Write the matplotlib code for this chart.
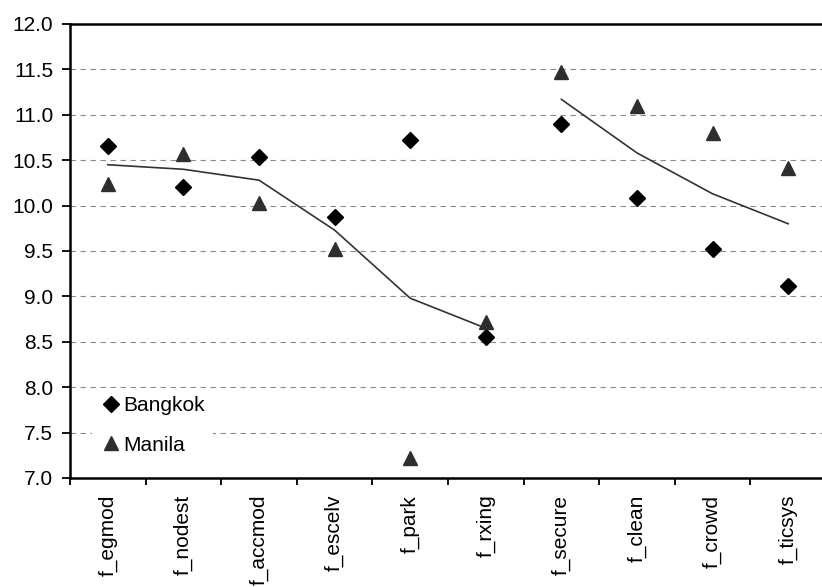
import numpy as np
import matplotlib
matplotlib.use("Agg")
import matplotlib.pyplot as plt

categories = ['f_egmod', 'f_nodest', 'f_accmod', 'f_escelv', 'f_park',
              'f_rxing', 'f_secure', 'f_clean', 'f_crowd', 'f_ticsys']
bangkok = [10.66, 10.21, 10.53, 9.87, 10.72, 8.55, 10.90, 10.08, 9.52, 9.12]
manila = [10.24, 10.57, 10.03, 9.52, 7.22, 8.72, 11.47, 11.10, 10.80, 10.41]
# trend line, broken between f_rxing and f_secure
trend = [10.45, 10.40, 10.28, 9.73, 8.98, 8.65, 11.17, 10.58, 10.13, 9.80]
trend_break = 6
y_ticks = [7.0, 7.5, 8.0, 8.5, 9.0, 9.5, 10.0, 10.5, 11.0, 11.5, 12.0]

plt.rcParams['font.family'] = ['Liberation Sans', 'DejaVu Sans']

fig = plt.figure(figsize=(8.22, 5.87), dpi=100)
ax = fig.add_axes([70/822, 109/587, 756/822, 454/587])

x = np.arange(len(categories))
for yv in y_ticks[1:-1]:
    ax.axhline(yv, color='#8a8a8a', lw=0.8, ls=(0, (5, 4)), zorder=1)

ax.plot(x[:trend_break], trend[:trend_break], color='#333333', lw=1.2, zorder=2)
ax.plot(x[trend_break:], trend[trend_break:], color='#333333', lw=1.2, zorder=2)

ax.plot(x, bangkok, ls='none', marker='D', ms=8.5, color='black',
        label='Bangkok', zorder=3)
ax.plot(x, manila, ls='none', marker='^', ms=10.5, color='#2e2e2e',
        label='Manila', zorder=3)

ax.set_xlim(-0.5, len(categories) - 0.5)
ax.set_ylim(7.0, 12.0)
ax.set_yticks(y_ticks)
ax.set_yticklabels([f'{v:.1f}' for v in y_ticks], fontsize=15)

ax.set_xticks(np.arange(-0.5, len(categories), 1.0))
ax.set_xticklabels([])
ax.set_xticks(x, minor=True)
ax.set_xticklabels(categories, minor=True, rotation=90, fontsize=15)
ax.tick_params(axis='x', which='major', direction='out', length=5, width=1.3)
ax.tick_params(axis='x', which='minor', length=0, pad=12)
ax.tick_params(axis='y', direction='out', length=6, width=1.3, pad=6)

for side in ['left', 'bottom', 'top']:
    ax.spines[side].set_linewidth(1.8)
ax.spines['right'].set_visible(False)

leg = ax.legend(loc='lower left', bbox_to_anchor=(0.015, 0.01), fontsize=15,
                frameon=True, handletextpad=0.1, labelspacing=1.0,
                handlelength=1.0, borderpad=0.4)
leg.get_frame().set_facecolor('white')
leg.get_frame().set_edgecolor('none')
leg.get_frame().set_alpha(1)

fig.savefig('out.png', dpi=100)
